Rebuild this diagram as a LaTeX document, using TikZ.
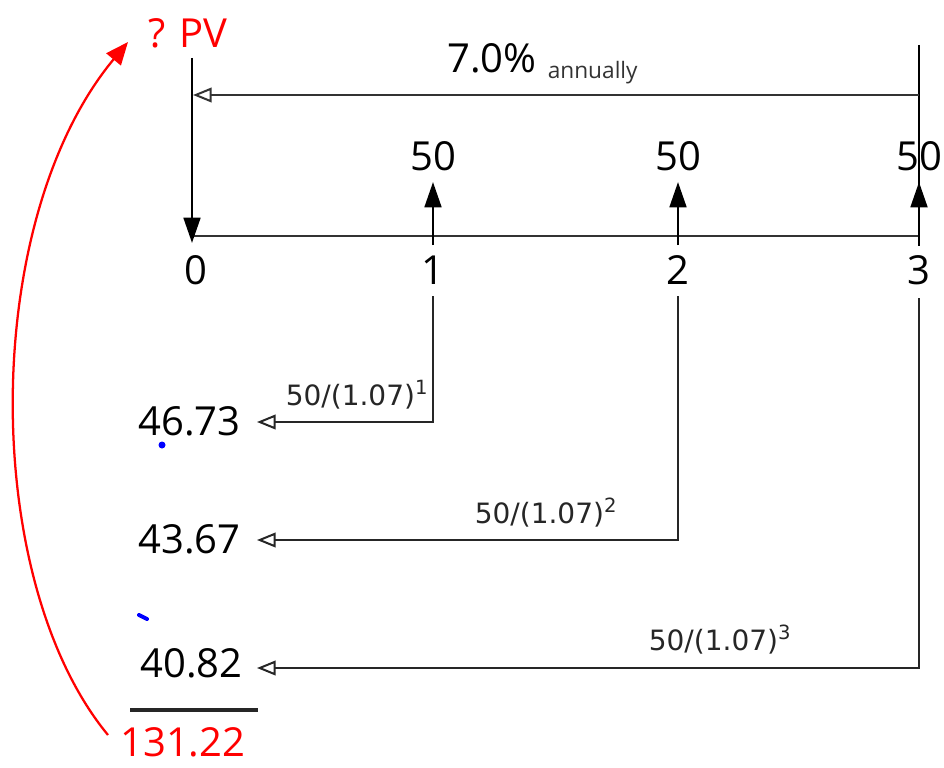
\documentclass[tikz,border=0pt]{standalone}
\usepackage{fontspec}
\setmainfont{Open Sans}
\newfontfamily\formfont{DejaVu Sans}
\usetikzlibrary{arrows.meta, positioning, calc}
\colorlet{LineGray}{black!80}
\colorlet{PVRed}{red}
\colorlet{StrayBlue}{blue}

\begin{document}
\begin{tikzpicture}[
    x=0.75pt, y=-0.75pt,
    big/.style={font=\fontsize{30}{36}\selectfont, inner sep=0pt, anchor=base},
    small/.style={font=\fontsize{17}{20}\selectfont, inner sep=0pt, text=black!80},
    formula/.style={font=\formfont\fontsize{21}{25}\selectfont, inner sep=0pt,
                    anchor=base, text=black!85},
    flow/.style={line width=2.1pt, draw=LineGray},
    cash/.style={flow, -{Triangle[length=19pt, width=12.5pt]}},
    disc/.style={flow, -{Triangle[open, length=14pt, width=11pt, line width=1.5pt]}},
    total/.style={line width=3pt, black!85}
]
\useasboundingbox (0,0) rectangle (944,767);

% ===================================================================
% TIME LINE
% ===================================================================
\coordinate (t0) at (192,236);
\coordinate (t3) at (919,236);
\node[big] (n0) at (196,284) {0};
\node[big] (n1) at (433,284) {1};
\node[big] (n2) at (678,284) {2};
\node[big] (n3) at (919,284) {3};
\draw[flow] (t0) -- (t3);

% right edge line, broken round the label 3
\coordinate (rtop) at (919,45);
\coordinate (rlow) at (919,246);
\draw[flow, draw=black] (rtop) -- (rlow);

% present value arrow down to 0
\coordinate (pvtop) at (192,58);
\coordinate (pvtip) at (192,243);
\draw[cash, draw=black] (pvtop) -- (pvtip);

% rate arrow
\coordinate (rateR) at (919,95);
\coordinate (rateL) at (193,95);
\draw[disc] (rateR) -- (rateL);
\node[big, anchor=base west] (rate) at (447,73) {7.0\%};
\node[small, anchor=base west] (ann) at ([xshift=8pt, yshift=-4pt]rate.base east) {annually};

% ===================================================================
% CASH FLOWS
% ===================================================================
\foreach \i/\x in {1/433, 2/678, 3/919} {
    \coordinate (cf\i) at (\x,245);
    \coordinate (up\i) at (\x,182);
    \draw[cash, draw=black] (cf\i) -- (up\i);
    \node[big] (c\i) at (\x,170) {50};
}

% ===================================================================
% DISCOUNTED VALUES
% ===================================================================
\node[big, anchor=base west] (v1) at (138,435) {46.73};
\node[big, anchor=base west] (v2) at (138,553) {43.67};
\node[big, anchor=base west] (v3) at (140,677) {40.82};

\coordinate (d1) at (433,296);
\coordinate (d2) at (678,296);
\coordinate (d3) at (919,298);
\coordinate (e1) at (257,422);
\coordinate (e2) at (257,540);
\coordinate (e3) at (257,668);
\foreach \i in {1,2,3} {
    \draw[disc, draw=black!85] (d\i) |- (e\i);
}
\node[formula] (f1) at (357,405) {50/(1.07)\textsuperscript{1}};
\node[formula] (f2) at (546,523) {50/(1.07)\textsuperscript{2}};
\node[formula] (f3) at (720,650) {50/(1.07)\textsuperscript{3}};

% sum
\coordinate (sumL) at (130,710);
\coordinate (sumR) at (258,710);
\draw[total] (sumL) -- (sumR);
\node[big, anchor=base west, text=PVRed] (sum) at (120,756) {131.22};
\node[big, anchor=base west, text=PVRed] (pv) at (148,48) {? PV};

\coordinate (arcS) at (108,735);
\coordinate (arcE) at (128,42);
\draw[PVRed, line width=1.7pt, -{Triangle[length=17pt, width=14pt]}]
    (arcS) .. controls (-20,580) and (-20,220) .. (arcE);

% stray marks
\fill[StrayBlue] (162,445) circle (3.5);
\draw[StrayBlue, line width=3pt, line cap=round] (139,615) -- (147,619);

\end{tikzpicture}
\end{document}
